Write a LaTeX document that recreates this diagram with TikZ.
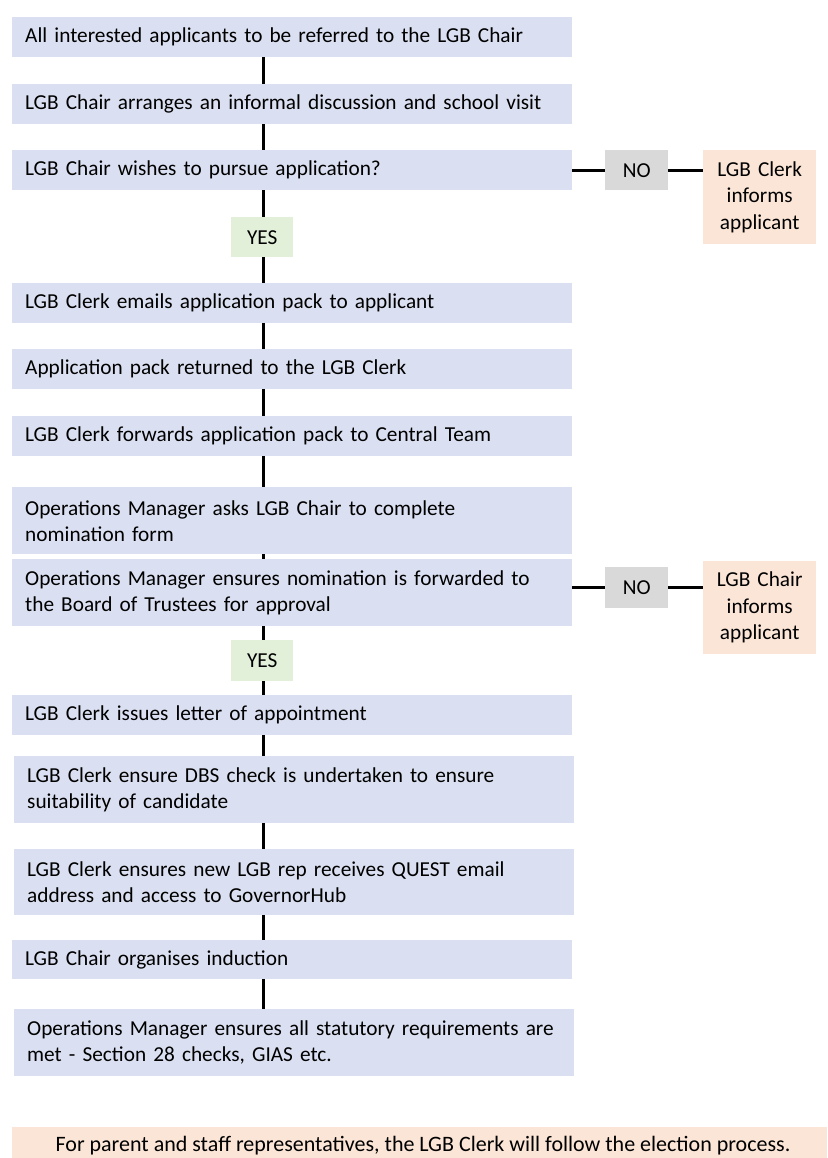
\documentclass[tikz,border=0pt]{standalone}
\usepackage{fontspec}
\setmainfont{Carlito}
\definecolor{boxblue}{HTML}{DAE0F1}
\definecolor{nogray}{HTML}{D9D9D9}
\definecolor{yesgreen}{HTML}{E2F0D9}
\definecolor{infopeach}{HTML}{FBE5D6}
\begin{document}
\begin{tikzpicture}[x=1pt,y=-1pt,
  stepbox/.style={fill=boxblue, draw=none, anchor=north west, inner xsep=13pt, inner ysep=0pt,
    align=left, text width=534pt, minimum height=40pt, font=\fontsize{21.3}{26}\selectfont},
  nobox/.style={fill=nogray, draw=none, anchor=north west, inner sep=0pt, align=center,
    minimum width=63pt, minimum height=40pt, font=\fontsize{21.3}{26}\selectfont},
  yesbox/.style={fill=yesgreen, draw=none, anchor=north west, inner sep=0pt, align=center,
    minimum width=62pt, minimum height=40pt, font=\fontsize{21.3}{26}\selectfont},
  infobox/.style={fill=infopeach, draw=none, anchor=north west, inner sep=0pt, align=center,
    text width=113pt, minimum height=94pt, font=\fontsize{21.3}{26.5}\selectfont},
  conn/.style={draw=black, line width=3pt}]
\clip (0,0) rectangle (827,1158);
\fill[white] (0,0) rectangle (827,1158);
\coordinate (spine) at (263,0);
\node[stepbox] (b1) at (12,17) {All interested applicants to be referred to the LGB Chair};
\node[stepbox] (b2) at (12,84) {LGB Chair arranges an informal discussion and school visit};
\node[stepbox] (b3) at (12,150) {LGB Chair wishes to pursue application?};
\node[nobox] (no1) at (605,150) {NO};
\node[infobox] (ci1) at (703,150) {LGB Clerk\\informs\\applicant};
\node[yesbox] (yes1) at (231,217) {YES};
\node[stepbox] (b4) at (12,283) {LGB Clerk emails application pack to applicant};
\node[stepbox] (b5) at (12,349) {Application pack returned to the LGB Clerk};
\node[stepbox] (b6) at (12,416) {LGB Clerk forwards application pack to Central Team};
\node[stepbox, minimum height=67pt] (b7) at (12,487) {Operations Manager asks LGB Chair to complete\\nomination form};
\node[stepbox, minimum height=67pt] (b8) at (12,559) {Operations Manager ensures nomination is forwarded to\\the Board of Trustees for approval};
\node[nobox, minimum height=41pt] (no2) at (605,567) {NO};
\node[infobox, minimum height=93pt] (ci2) at (703,561) {LGB Chair\\informs\\applicant};
\node[yesbox, minimum height=41pt] (yes2) at (231,640) {YES};
\node[stepbox] (b9) at (12,695) {LGB Clerk issues letter of appointment};
\node[stepbox, minimum height=67pt] (b10) at (14,756) {LGB Clerk ensure DBS check is undertaken to ensure\\suitability of candidate};
\node[stepbox, minimum height=66pt] (b11) at (14,849) {LGB Clerk ensures new LGB rep receives QUEST email\\address and access to GovernorHub};
\node[stepbox, minimum height=39pt] (b12) at (12,940) {LGB Chair organises induction};
\node[stepbox, minimum height=67pt] (b13) at (14,1009) {Operations Manager ensures all statutory requirements are\\met - Section 28 checks, GIAS etc.};
\node[fill=infopeach, draw=none, anchor=north west, inner sep=0pt, minimum width=815pt,
  minimum height=50pt] (foot) at (12,1127) {};
\node[anchor=base, inner sep=0pt, font=\fontsize{22}{26}\selectfont] (foottext) at (423,1151)
  {For parent and staff representatives, the LGB Clerk will follow the election process.};
% vertical connectors
\draw[conn] (b1.south -| spine) -- (b2.north -| spine);
\draw[conn] (b2.south -| spine) -- (b3.north -| spine);
\draw[conn] (b3.south -| spine) -- (yes1.north -| spine);
\draw[conn] (yes1.south -| spine) -- (b4.north -| spine);
\draw[conn] (b4.south -| spine) -- (b5.north -| spine);
\draw[conn] (b5.south -| spine) -- (b6.north -| spine);
\draw[conn] (b6.south -| spine) -- (b7.north -| spine);
\draw[conn] (b7.south -| spine) -- (b8.north -| spine);
\draw[conn] (b8.south -| spine) -- (yes2.north -| spine);
\draw[conn] (yes2.south -| spine) -- (b9.north -| spine);
\draw[conn] (b9.south -| spine) -- (b10.north -| spine);
\draw[conn] (b10.south -| spine) -- (b11.north -| spine);
\draw[conn] (b11.south -| spine) -- (b12.north -| spine);
\draw[conn] (b12.south -| spine) -- (b13.north -| spine);
% NO branches
\draw[conn] (no1.west -| b3.east) -- (no1.west);
\draw[conn] (no1.east) -- (no1.east -| ci1.west);
\draw[conn] (no2.west -| b8.east) -- (no2.west);
\draw[conn] (no2.east) -- (no2.east -| ci2.west);
\end{tikzpicture}
\end{document}
